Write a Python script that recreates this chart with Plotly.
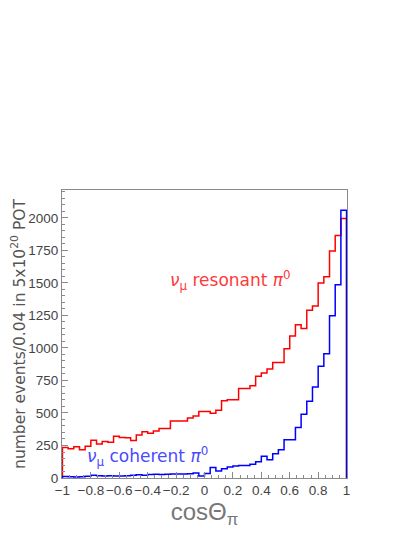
import numpy as np
import plotly.graph_objects as go

# histogram binning: 50 bins of 0.04 in cos(theta_pi)
bin_lo = -1.0
bin_width = 0.04

# nu_mu resonant pi0 (events per bin)
resonant = [235, 225, 240, 218, 245, 290, 262, 280, 275, 322,
            312, 310, 288, 330, 355, 345, 362, 380, 380, 438,
            438, 438, 462, 476, 512, 512, 498, 522, 595, 602,
            602, 688, 688, 710, 783, 808, 838, 888, 888, 995,
            1093, 1178, 1150, 1290, 1322, 1500, 1548, 1745, 1865, 1995]

# nu_mu coherent pi0 (events per bin)
coherent = [12, 10, 8, 10, 14, 22, 18, 15, 18, 16,
            16, 18, 22, 25, 22, 26, 28, 26, 28, 30,
            30, 30, 32, 38, 16, 35, 80, 53, 72, 84,
            92, 97, 97, 105, 125, 168, 140, 186, 217, 294,
            294, 389, 490, 591, 699, 860, 955, 1248, 1486, 2060]

x_ticks = [-1, -0.8, -0.6, -0.4, -0.2, 0, 0.2, 0.4, 0.6, 0.8, 1]
x_ticktext = ["\u22121", "\u22120.8", "\u22120.6", "\u22120.4", "\u22120.2",
              "0", "0.2", "0.4", "0.6", "0.8", "1"]
y_ticks = [0, 250, 500, 750, 1000, 1250, 1500, 1750, 2000]

FONT = "Liberation Sans"
GREY = "#8a8a8a"


def outline(counts):
    """ROOT-like histogram outline: starts and ends on zero."""
    edges = bin_lo + bin_width * np.arange(len(counts) + 1)
    x = np.concatenate([[edges[0]], edges])
    y = np.concatenate([[0], counts, [0]])
    return x, y


fig = go.Figure()
for counts, color in [(resonant, "#ff0000"), (coherent, "#0000ff")]:
    x, y = outline(counts)
    fig.add_trace(go.Scatter(x=x, y=y, mode="lines", line_shape="hv",
                             line=dict(color=color, width=1.5),
                             hoverinfo="skip"))

fig.add_annotation(x=0.18, y=1516, xref="x", yref="y", showarrow=False,
                   text="<i>\u03bd</i><sub>\u03bc</sub> resonant <i>\u03c0</i><sup>0</sup>",
                   font=dict(family="DejaVu Sans", size=17, color="#ff3a3a"))
fig.add_annotation(x=-0.40, y=168, xref="x", yref="y", showarrow=False,
                   text="<i>\u03bd</i><sub>\u03bc</sub> coherent <i>\u03c0</i><sup>0</sup>",
                   font=dict(family="DejaVu Sans", size=17, color="#4a4aff"))

# the page body adds an 8px offset, so margins are shifted to compensate
fig.update_layout(
    width=415, height=529,
    margin=dict(l=54, r=76, t=182, b=59),
    plot_bgcolor="white", paper_bgcolor="white",
    showlegend=False,
    xaxis=dict(
        range=[-1.003, 1.003], tickvals=x_ticks, ticktext=x_ticktext,
        automargin=False, tickangle=0,
        ticks="inside", ticklen=6, tickcolor=GREY, tickwidth=1,
        minor=dict(dtick=0.05, ticks="inside", ticklen=3, tickcolor=GREY),
        showline=True, linecolor=GREY, mirror=True,
        showgrid=False, zeroline=False,
        tickfont=dict(family=FONT, size=13.5, color="#444"),
        title=dict(text="cos\u0398<sub>\u03c0</sub>", standoff=4,
                   font=dict(family=FONT, size=24, color="#777")),
    ),
    yaxis=dict(
        range=[0, 2215], tickvals=y_ticks,
        automargin=False,
        ticks="inside", ticklen=6, tickcolor=GREY, tickwidth=1,
        minor=dict(dtick=50, ticks="inside", ticklen=3, tickcolor=GREY),
        showline=True, linecolor=GREY, mirror=True,
        showgrid=False, zeroline=False,
        tickfont=dict(family=FONT, size=13.5, color="#444"),
        title=dict(text="number events/0.04 in 5x10<sup>20</sup> POT", standoff=6,
                   font=dict(family="DejaVu Sans", size=15.5, color="#555")),
    ),
)

fig.write_html("out.html")
